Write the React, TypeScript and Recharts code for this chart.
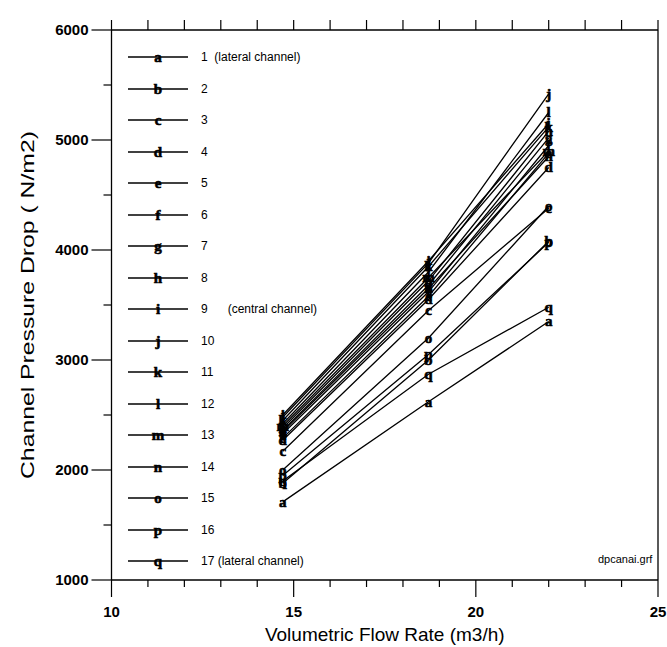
import { LineChart, Line, XAxis, YAxis } from 'recharts';

// flow rates at which the channel pressure drops were measured
const flowRates = [14.7, 18.7, 22.0];

// marker letter per channel, plus the legend text
const channelLetters = ['a', 'b', 'c', 'd', 'e', 'f', 'g', 'h', 'i', 'j', 'k', 'l', 'm', 'n', 'o', 'p', 'q'];
const channelLabels = [
  '1  (lateral channel)', '2', '3', '4', '5', '6', '7', '8', '9      (central channel)',
  '10', '11', '12', '13', '14', '15', '16', '17 (lateral channel)',
];

// pressure drop (N/m2) for each channel
const channel1 = [1710, 2620, 3350];
const channel2 = [1880, 3000, 4080];
const channel3 = [2170, 3450, 4380];
const channel4 = [2270, 3550, 4750];
const channel5 = [2290, 3580, 4880];
const channel6 = [2330, 3620, 4950];
const channel7 = [2360, 3680, 5020];
const channel8 = [2380, 3720, 5080];
const channel9 = [2500, 3900, 5150];
const channel10 = [2480, 3880, 5420];
const channel11 = [2450, 3850, 5120];
const channel12 = [2420, 3800, 5250];
const channel13 = [2400, 3750, 4900];
const channel14 = [2350, 3650, 4850];
const channel15 = [2000, 3200, 4400];
const channel16 = [1950, 3050, 4070];
const channel17 = [1900, 2870, 3480];

const channelDrops = [
  channel1, channel2, channel3, channel4, channel5, channel6, channel7, channel8, channel9,
  channel10, channel11, channel12, channel13, channel14, channel15, channel16, channel17,
];

const xTicks = [10, 11, 12, 13, 14, 15, 16, 17, 18, 19, 20, 21, 22, 23, 24, 25];
const xMajorTicks = [10, 15, 20, 25];
const yTicks = [1000, 1500, 2000, 2500, 3000, 3500, 4000, 4500, 5000, 5500, 6000];
const yMajorTicks = [1000, 2000, 3000, 4000, 5000, 6000];

const rows = flowRates.map((flow, i) => {
  const row: Record<string, number> = { flow };
  channelDrops.forEach((drops, c) => {
    row[`ch${c + 1}`] = drops[i];
  });
  return row;
});

const sans = '"Liberation Sans", Arial, sans-serif';
const serif = '"Liberation Serif", serif';

const BottomTick = (props: any) => {
  const { x, y, payload } = props;
  const major = xMajorTicks.includes(payload.value);
  return (
    <g>
      <line x1={x} x2={x} y1={y} y2={y + (major ? 17 : 7)} stroke="#000" strokeWidth={1.2} />
      {major && (
        <text x={x} y={y + 37} textAnchor="middle" fontFamily={sans} fontWeight="bold" fontSize={15} fill="#000">
          {payload.value}
        </text>
      )}
    </g>
  );
};

const TopTick = (props: any) => {
  const { x, y } = props;
  return <line x1={x} x2={x} y1={y} y2={y - 10} stroke="#000" strokeWidth={1.2} />;
};

const LeftTick = (props: any) => {
  const { x, y, payload } = props;
  const major = yMajorTicks.includes(payload.value);
  return (
    <g>
      <line x1={x - (major ? 20 : 8)} x2={x} y1={y} y2={y} stroke="#000" strokeWidth={1.2} />
      {major && (
        <text x={x - 23} y={y} dy="0.35em" textAnchor="end" fontFamily={sans} fontWeight="bold" fontSize={15} fill="#000">
          {payload.value}
        </text>
      )}
    </g>
  );
};

const RightTick = (props: any) => {
  const { x, y, payload } = props;
  const major = yMajorTicks.includes(payload.value);
  return <line x1={x - (major ? 8 : 0)} x2={x + 9} y1={y} y2={y} stroke="#000" strokeWidth={1.2} />;
};

const YTitle = (props: any) => {
  const { viewBox } = props;
  const cx = viewBox.x + 27;
  const cy = viewBox.y + viewBox.height / 2;
  return (
    <text
      x={cx}
      y={cy}
      transform={`rotate(-90 ${cx} ${cy})`}
      textAnchor="middle"
      dy="0.35em"
      fontFamily={sans}
      fontSize={19}
      textLength={348}
      lengthAdjust="spacingAndGlyphs"
      fill="#000"
    >
      Channel Pressure Drop ( N/m2)
    </text>
  );
};

const XTitle = (props: any) => {
  const { viewBox } = props;
  return (
    <text
      x={viewBox.x + viewBox.width / 2}
      y={viewBox.y + 54}
      textAnchor="middle"
      dy="0.35em"
      fontFamily={sans}
      fontSize={19}
      fill="#000"
    >
      Volumetric Flow Rate (m3/h)
    </text>
  );
};

const letterDot = (letter: string) => (props: any) => {
  const { cx, cy, index } = props;
  return (
    <text
      key={`${letter}-${index}`}
      x={cx}
      y={cy}
      dy="0.32em"
      textAnchor="middle"
      fontFamily={serif}
      fontWeight="bold"
      fontSize={15}
      stroke="#000"
      strokeWidth={0.6}
      fill="#000"
    >
      {letter}
    </text>
  );
};

const LegendBox = () => (
  <div style={{ position: 'absolute', left: 0, top: 0, pointerEvents: 'none' }}>
    {channelLetters.map((letter, i) => (
      <div
        key={letter}
        style={{ position: 'absolute', left: 128, top: 57 + i * 31.5 - 10, height: 20, display: 'flex', alignItems: 'center' }}
      >
        <svg width={60} height={20} style={{ display: 'block' }}>
          <line x1={0} x2={60} y1={10} y2={10} stroke="#000" strokeWidth={1.5} />
          <text
            x={30}
            y={10}
            dy="0.32em"
            textAnchor="middle"
            fontFamily={serif}
            fontWeight="bold"
            fontSize={15}
            stroke="#000"
            strokeWidth={0.6}
            fill="#000"
          >
            {letter}
          </text>
        </svg>
        <span style={{ marginLeft: 13, fontFamily: sans, fontSize: 12, whiteSpace: 'pre', color: '#000' }}>
          {channelLabels[i]}
        </span>
      </div>
    ))}
    <div style={{ position: 'absolute', left: 598, top: 553, fontFamily: sans, fontSize: 11, color: '#000' }}>dpcanai.grf</div>
  </div>
);

export default function App() {
  return (
    <div style={{ position: 'absolute', left: 0, top: 0, width: 667, height: 647, background: '#fff' }}>
      <LineChart width={667} height={647} data={rows} margin={{ top: 20, right: 0, bottom: 0, left: 0 }}>
        <XAxis
          xAxisId="bottom"
          type="number"
          dataKey="flow"
          domain={[10, 25]}
          ticks={xTicks}
          interval={0}
          height={67}
          tickSize={0}
          tickMargin={0}
          tickLine={false}
          axisLine={{ stroke: '#000', strokeWidth: 1.3 }}
          tick={BottomTick}
          label={{ content: XTitle }}
        />
        <XAxis
          xAxisId="top"
          orientation="top"
          type="number"
          dataKey="flow"
          domain={[10, 25]}
          ticks={xTicks}
          interval={0}
          height={10}
          tickSize={0}
          tickMargin={0}
          tickLine={false}
          axisLine={{ stroke: '#000', strokeWidth: 1.3 }}
          tick={TopTick}
        />
        <YAxis
          yAxisId="left"
          type="number"
          domain={[1000, 6000]}
          ticks={yTicks}
          interval={0}
          width={111.5}
          tickSize={0}
          tickMargin={0}
          tickLine={false}
          axisLine={{ stroke: '#000', strokeWidth: 1.3 }}
          tick={LeftTick}
          label={{ content: YTitle }}
        />
        <YAxis
          yAxisId="right"
          orientation="right"
          type="number"
          domain={[1000, 6000]}
          ticks={yTicks}
          interval={0}
          width={9}
          tickSize={0}
          tickMargin={0}
          tickLine={false}
          axisLine={{ stroke: '#000', strokeWidth: 1.3 }}
          tick={RightTick}
        />
        {channelLetters.map((letter, c) => (
          <Line
            key={letter}
            xAxisId="bottom"
            yAxisId="left"
            type="linear"
            dataKey={`ch${c + 1}`}
            stroke="#000"
            strokeWidth={1.3}
            dot={letterDot(letter)}
            activeDot={false}
            isAnimationActive={false}
          />
        ))}
      </LineChart>
      <LegendBox />
    </div>
  );
}
